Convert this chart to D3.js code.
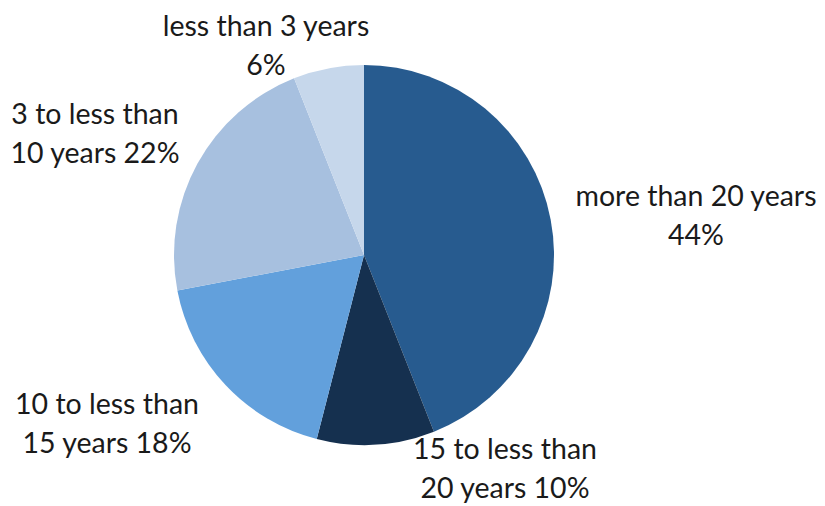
<!DOCTYPE html>
<html><head><meta charset="utf-8">
<script src="https://cdn.jsdelivr.net/npm/d3@7"></script>
<style>body{margin:0;background:#fff}svg{display:block}</style>
</head><body>
<svg id="c" width="825" height="506"></svg>
<script>
const categories = ["more than 20 years","15 to less than 20 years","10 to less than 15 years","3 to less than 10 years","less than 3 years"];
const values = [44, 10, 18, 22, 6];
const labelLines = [
  ["more than 20 years","44%"],
  ["15 to less than","20 years 10%"],
  ["10 to less than","15 years 18%"],
  ["3 to less than","10 years 22%"],
  ["less than 3 years","6%"]
];
const colors = ["#275b8f","#15304f","#62a0dc","#a7c0df","#c6d7eb"];

const svg = d3.select("#c");
const cx = 364, cy = 255, r = 190;
const pie = d3.pie().sort(null).value(d => d)(values);
const arc = d3.arc().innerRadius(0).outerRadius(r);
const g = svg.append("g").attr("transform", `translate(${cx},${cy})`);
g.selectAll("path").data(pie).join("path")
  .attr("d", arc).attr("fill", (d,i) => colors[i]);

// label anchor positions (centre of text block, first baseline)
const labelPos = [[696,206],[505,459],[107,414],[95,124],[266,36]];
const lab = svg.append("g").attr("font-family","Lato, 'Open Sans', sans-serif")
  .attr("font-size", 28.5).attr("fill","#1a1a1a").attr("text-anchor","middle");
labelLines.forEach((lines,i) => {
  const t = lab.append("text").attr("x", labelPos[i][0]).attr("y", labelPos[i][1]);
  lines.forEach((s,j) => t.append("tspan").attr("x", labelPos[i][0]).attr("dy", j ? 38.5 : 0).text(s));
});
</script>
</body></html>
